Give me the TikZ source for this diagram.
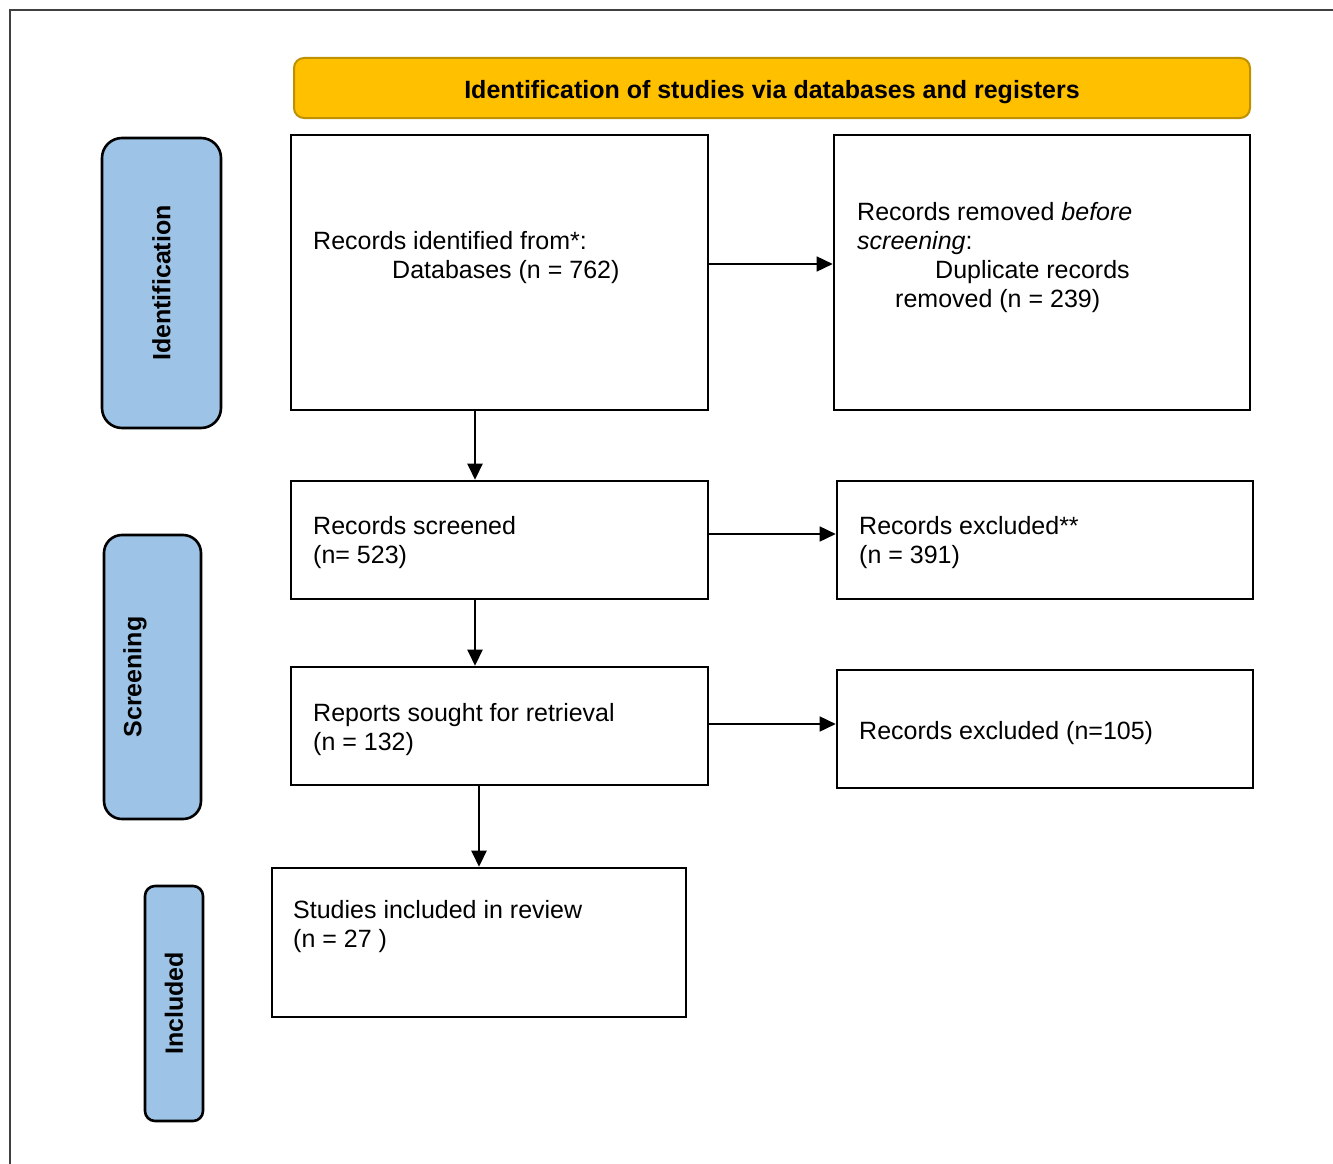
\documentclass[tikz,border=0pt]{standalone}
\usepackage{fontspec}
\setmainfont{Liberation Sans}
\usepackage{xcolor}
\usepackage{tikz}
\usetikzlibrary{arrows.meta,positioning,calc}
\definecolor{headyellow}{RGB}{255,192,0}
\definecolor{headedge}{RGB}{191,144,0}
\definecolor{stageblue}{RGB}{157,195,230}

\begin{document}
\begin{tikzpicture}[x=1pt, y=-1pt,
  font=\fontsize{25}{29}\selectfont,
  box/.style={draw, line width=2.6pt, inner sep=0pt},
  stage/.style={draw, line width=2.6pt, fill=stageblue, inner sep=0pt},
  lab/.style={anchor=base west, align=left, inner sep=0pt},
  stagelab/.style={rotate=90, font=\fontsize{25}{29}\selectfont\bfseries, inner sep=0pt},
  arrow/.style={-{Triangle[length=16pt, width=15pt]}, line width=2.5pt}
]
\useasboundingbox (0,0) rectangle (1333,1164);
% outer frame, runs off the page at right and bottom
\draw[line width=1.5pt, black!75] (1340,10) -- (10,10) -- (10,1170);

% header
\node[draw=headedge, fill=headyellow, line width=2pt, rounded corners=10pt,
  minimum width=956pt, minimum height=60pt, inner sep=0pt] (head) at (772,88) {};
\node[font=\fontsize{25}{29}\selectfont\bfseries, anchor=base, inner sep=0pt] (headtxt) at (772,98)
  {Identification of studies via databases and registers};

% stage bars
\node[stage, rounded corners=20pt, minimum width=119pt, minimum height=290pt] (sid) at (161.5,283) {};
\node[stagelab] (sidtxt) at (161.5,283) {Identification};
\node[stage, rounded corners=18pt, minimum width=97pt, minimum height=284pt] (sscr) at (152.5,677) {};
\node[stagelab] (sscrtxt) at (135,677) {Screening};
\node[stage, rounded corners=10pt, minimum width=58pt, minimum height=235pt] (sinc) at (174,1003.5) {};
\node[stagelab] (sinctxt) at (174,1003.5) {Included};

% boxes
\node[box, minimum width=417pt, minimum height=275pt] (ident) at (499.5,272.5) {};
\node[box, minimum width=416pt, minimum height=275pt] (removed) at (1042,272.5) {};
\node[box, minimum width=417pt, minimum height=118pt] (screened) at (499.5,540) {};
\node[box, minimum width=416pt, minimum height=118pt] (excl) at (1045,540) {};
\node[box, minimum width=417pt, minimum height=118pt] (sought) at (499.5,726) {};
\node[box, minimum width=416pt, minimum height=118pt] (exclrep) at (1045,729) {};
\node[box, minimum width=414pt, minimum height=149pt] (incl) at (479,942.5) {};

% texts (base = last line)
\node[lab] (identtxt) at (313,278) {Records identified from*:\\\hspace*{79pt}Databases (n = 762)};
\node[lab] (removedtxt) at (857,307) {Records removed \textit{before}\\\textit{screening}:\\\hspace*{78pt}Duplicate records\\\hspace*{38pt}removed (n = 239)};
\node[lab] (screenedtxt) at (313,563) {Records screened\\(n= 523)};
\node[lab] (excltxt) at (859,563) {Records excluded**\\(n = 391)};
\node[lab] (soughttxt) at (313,750) {Reports sought for retrieval\\(n = 132)};
\node[lab] (exclreptxt) at (859,739) {Records excluded (n=105)};
\node[lab] (incltxt) at (293,947) {Studies included in review\\(n = 27 )};

% connectors
\draw[arrow, line width=1.6pt] ([yshift=8.5pt]ident.east) -- ([yshift=8.5pt]ident.east -| removed.west);
\draw[arrow, line width=1.6pt] ([yshift=6pt]screened.east) -- ([yshift=6pt]screened.east -| excl.west);
\draw[arrow, line width=1.6pt] ([yshift=2pt]sought.east) -- ([yshift=2pt]sought.east -| exclrep.west);
\draw[arrow] ([xshift=-24.5pt]ident.south) -- ([xshift=-24.5pt]ident.south |- screened.north);
\draw[arrow] ([xshift=-24.5pt]screened.south) -- ([xshift=-24.5pt]screened.south |- sought.north);
\draw[arrow] (incl.north |- sought.south) -- (incl.north);
\end{tikzpicture}
\end{document}
